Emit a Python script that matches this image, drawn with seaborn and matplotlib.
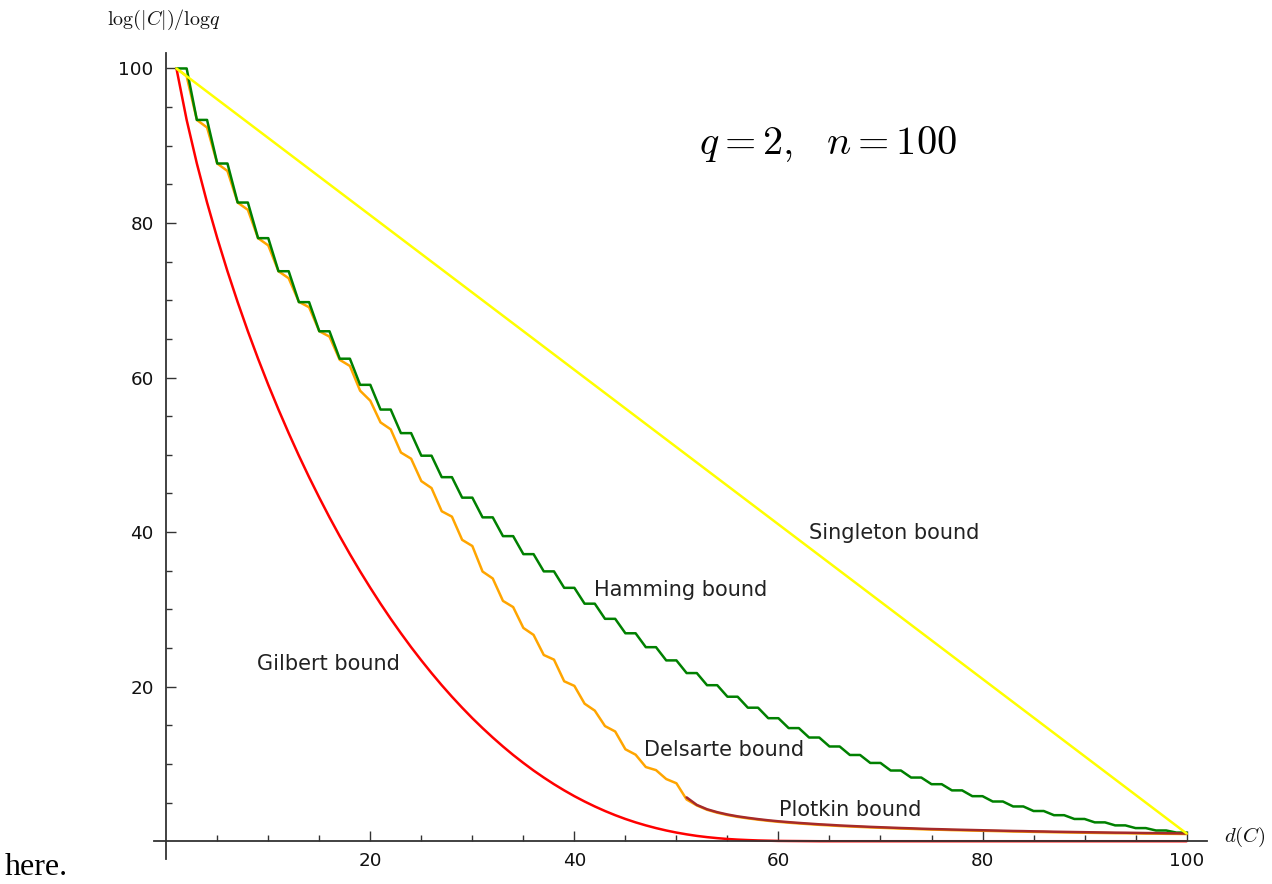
import matplotlib
matplotlib.use("Agg")
import matplotlib.pyplot as plt
import seaborn as sns
import pandas as pd
from matplotlib.ticker import FixedLocator

# ---------------- data ----------------
d_all = list(range(1, 101))

hamming = [100.0, 100.0, 93.34, 93.34, 87.70, 87.70, 82.65, 82.65, 78.04, 78.04,
           73.76, 73.76, 69.76, 69.76, 65.99, 65.99, 62.44, 62.44, 59.06, 59.06,
           55.86, 55.86, 52.81, 52.81, 49.89, 49.89, 47.11, 47.11, 44.46, 44.46,
           41.91, 41.91, 39.48, 39.48, 37.15, 37.15, 34.92, 34.92, 32.79, 32.79,
           30.74, 30.74, 28.78, 28.78, 26.91, 26.91, 25.11, 25.11, 23.40, 23.40,
           21.76, 21.76, 20.19, 20.19, 18.70, 18.70, 17.28, 17.28, 15.92, 15.92,
           14.64, 14.64, 13.42, 13.42, 12.26, 12.26, 11.16, 11.16, 10.13, 10.13,
           9.15, 9.15, 8.24, 8.24, 7.38, 7.38, 6.58, 6.58, 5.83, 5.83,
           5.14, 5.14, 4.50, 4.50, 3.91, 3.91, 3.37, 3.37, 2.88, 2.88,
           2.44, 2.44, 2.05, 2.05, 1.70, 1.70, 1.39, 1.39, 1.12, 1.12]

gilbert = [100.0, 93.34, 87.70, 82.65, 78.04, 73.76, 69.76, 65.99, 62.44, 59.06,
           55.86, 52.81, 49.89, 47.11, 44.46, 41.91, 39.48, 37.15, 34.92, 32.79,
           30.74, 28.78, 26.91, 25.11, 23.40, 21.76, 20.19, 18.70, 17.28, 15.92,
           14.64, 13.42, 12.26, 11.16, 10.13, 9.15, 8.24, 7.38, 6.58, 5.83,
           5.14, 4.50, 3.91, 3.37, 2.88, 2.44, 2.05, 1.70, 1.39, 1.12,
           0.89, 0.69, 0.53, 0.40, 0.29, 0.21, 0.15, 0.10, 0.07, 0.04,
           0.03, 0.02, 0.01, 0.0, 0.0, 0.0, 0.0, 0.0, 0.0, 0.0,
           0.0, 0.0, 0.0, 0.0, 0.0, 0.0, 0.0, 0.0, 0.0, 0.0,
           0.0, 0.0, 0.0, 0.0, 0.0, 0.0, 0.0, 0.0, 0.0, 0.0,
           0.0, 0.0, 0.0, 0.0, 0.0, 0.0, 0.0, 0.0, 0.0, 0.0]

delsarte = [100.0, 99.0, 93.34, 92.36, 87.70, 86.73, 82.65, 81.70, 78.04, 77.10,
            73.76, 72.85, 69.80, 69.10, 66.00, 65.30, 62.30, 61.50, 58.30, 57.00,
            54.20, 53.30, 50.30, 49.50, 46.60, 45.70, 42.70, 42.00, 39.00, 38.20,
            34.90, 34.00, 31.10, 30.30, 27.60, 26.70, 24.10, 23.50, 20.70, 20.10,
            17.80, 16.90, 14.90, 14.20, 11.90, 11.20, 9.60, 9.20, 8.05, 7.50,
            5.40, 4.63, 4.07, 3.69, 3.39, 3.15, 2.96, 2.79, 2.64, 2.51,
            2.40, 2.30, 2.21, 2.12, 2.05, 1.97, 1.91, 1.85, 1.79, 1.74,
            1.69, 1.64, 1.60, 1.55, 1.51, 1.48, 1.44, 1.41, 1.38, 1.35,
            1.32, 1.29, 1.26, 1.24, 1.21, 1.19, 1.16, 1.14, 1.12, 1.10,
            1.08, 1.06, 1.04, 1.03, 1.01, 0.99, 0.98, 0.96, 0.95, 0.93]

plotkin_d = list(range(51, 101))
plotkin = [5.67, 4.70, 4.14, 3.76, 3.46, 3.22, 3.03, 2.86, 2.71, 2.58,
           2.47, 2.37, 2.28, 2.19, 2.12, 2.04, 1.98, 1.92, 1.86, 1.81,
           1.76, 1.71, 1.67, 1.62, 1.58, 1.55, 1.51, 1.48, 1.45, 1.42,
           1.39, 1.36, 1.33, 1.31, 1.28, 1.26, 1.23, 1.21, 1.19, 1.17,
           1.15, 1.13, 1.11, 1.10, 1.08, 1.06, 1.05, 1.03, 1.02, 1.00]

singleton_d = [1, 100]
singleton = [100.0, 1.0]

major_ticks = [20, 40, 60, 80, 100]
minor_ticks = [5, 10, 15, 25, 30, 35, 45, 50, 55, 65, 70, 75, 85, 90, 95]
tick_labels = ["20", "40", "60", "80", "100"]

bound_names = ["Singleton bound", "Hamming bound", "Gilbert bound",
               "Delsarte bound", "Plotkin bound"]
label_x = [71.3, 50.4, 15.9, 54.7, 67.0]
label_y = [40.2, 32.8, 23.2, 12.1, 4.3]

# ---------------- drawing ----------------
sns.set_style("white")
plt.rcParams["mathtext.fontset"] = "cm"
plt.rcParams["font.family"] = ["DejaVu Sans"]

fig = plt.figure(figsize=(12.72, 8.84), dpi=100)
ax = fig.add_axes([154 / 1272, 25 / 884, 1053 / 1272, 806 / 884])

lw = 1.8
sns.lineplot(x=d_all, y=gilbert, color="#ff0000", linewidth=lw, ax=ax, zorder=2)
sns.lineplot(x=d_all, y=delsarte, color="#ffa500", linewidth=lw, ax=ax, zorder=3)
sns.lineplot(x=d_all, y=hamming, color="#008000", linewidth=lw, ax=ax, zorder=4)
sns.lineplot(x=plotkin_d, y=plotkin, color="#a52a2a", linewidth=lw, ax=ax, zorder=5)
sns.lineplot(x=singleton_d, y=singleton, color="#ffff00", linewidth=lw, ax=ax, zorder=6)

ax.set_xlim(-1.2, 102)
ax.set_ylim(-2.3, 102)

for side in ["top", "right"]:
    ax.spines[side].set_visible(False)
for side in ["left", "bottom"]:
    ax.spines[side].set_position(("data", 0))
    ax.spines[side].set_color("#333333")
    ax.spines[side].set_linewidth(1.3)
    ax.spines[side].set_zorder(10)

ax.set_xticks(major_ticks)
ax.set_xticklabels(tick_labels)
ax.set_yticks(major_ticks)
ax.set_yticklabels(tick_labels)
ax.xaxis.set_minor_locator(FixedLocator(minor_ticks))
ax.yaxis.set_minor_locator(FixedLocator(minor_ticks))
ax.tick_params(which="both", direction="in", bottom=True, left=True,
               top=False, right=False, color="#333333", width=1.0)
ax.tick_params(which="major", length=7, labelsize=13.2, labelcolor="#111111")
ax.tick_params(which="minor", length=4)
ax.tick_params(axis="x", which="major", pad=7.6)
ax.tick_params(axis="y", which="major", pad=9.0)
ax.set_xlabel("")
ax.set_ylabel("")
ax.grid(False)

for name, tx, ty in zip(bound_names, label_x, label_y):
    ax.text(tx, ty, name, fontsize=15, color="#222222",
            ha="center", va="center_baseline")

ax.text(64.8, 90.2, r"$q=2,\;\;\, n=100$", fontsize=29, color="black",
        ha="center", va="center")

fig.text(164 / 1272, 1 - 20 / 884, r"$\mathrm{log}(|C|)/\mathrm{log}q$", fontsize=14.5,
         ha="center", va="center", color="#111111")
fig.text(1245 / 1272, 1 - 837 / 884, r"$d(C)$", fontsize=15,
         ha="center", va="center", color="#111111")
fig.text(5 / 1272, 9 / 884, "here.", fontsize=23, family="Liberation Serif",
         ha="left", va="baseline", color="black")

fig.savefig("out.png", dpi=100)
